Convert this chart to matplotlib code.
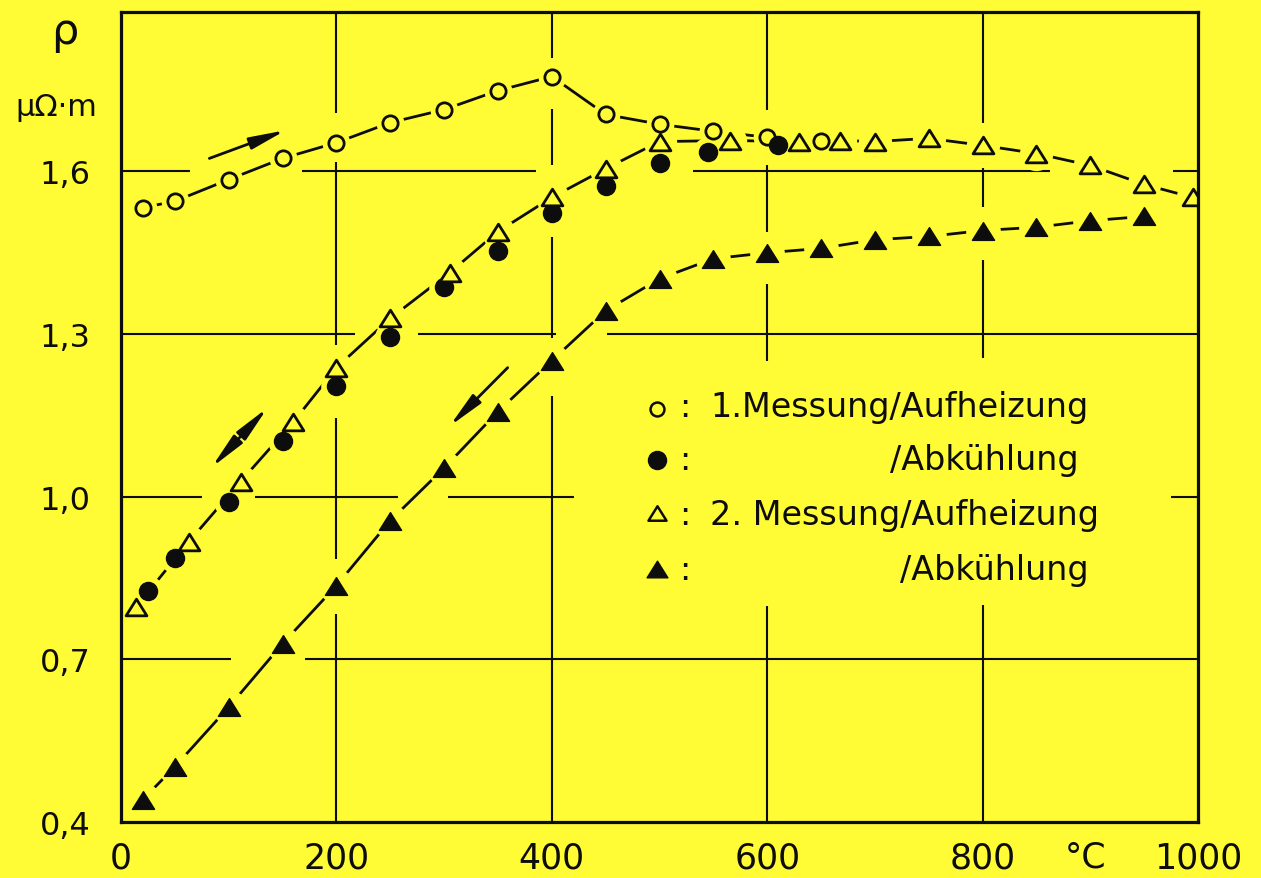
import matplotlib
matplotlib.use("Agg")
import matplotlib.pyplot as plt
from matplotlib.path import Path

# ---------------- data ----------------
# 1. Messung / Aufheizung (open circles)
t1_heat = [20, 50, 100, 150, 200, 250, 300, 350, 400, 450, 500, 550, 600, 650]
r1_heat = [1.533, 1.545, 1.585, 1.624, 1.653, 1.690, 1.714, 1.749, 1.775,
           1.705, 1.687, 1.674, 1.663, 1.656]
# 1. Messung / Abkühlung (filled circles)
t1_cool = [25, 50, 100, 150, 200, 250, 300, 350, 400, 450, 500, 545, 610]
r1_cool = [0.826, 0.887, 0.991, 1.103, 1.205, 1.295, 1.386, 1.454, 1.524,
           1.574, 1.615, 1.635, 1.648]
# 2. Messung / Aufheizung (open triangles)
t2_heat = [14, 63, 111, 160, 200, 250, 305, 350, 400, 450, 500, 565, 630,
           668, 700, 750, 800, 850, 900, 950, 995]
r2_heat = [0.797, 0.917, 1.028, 1.138, 1.238, 1.329, 1.413, 1.489, 1.552,
           1.605, 1.655, 1.657, 1.655, 1.657, 1.655, 1.661, 1.648, 1.633,
           1.611, 1.576, 1.552]
# 2. Messung / Abkühlung (filled triangles)
t2_cool = [20, 50, 100, 150, 200, 250, 300, 350, 400, 450, 500, 550, 600,
           650, 700, 750, 800, 850, 900, 950]
r2_cool = [0.441, 0.502, 0.612, 0.729, 0.836, 0.956, 1.053, 1.157, 1.251,
           1.343, 1.402, 1.439, 1.450, 1.458, 1.474, 1.480, 1.491, 1.497,
           1.509, 1.517]

x_ticks = [0, 200, 400, 600, 800, 1000]
x_ticklabels = ["0", "200", "400", "600", "800", "1000"]
y_ticks = [0.4, 0.7, 1.0, 1.3, 1.6]
y_ticklabels = ["0,4", "0,7", "1,0", "1,3", "1,6"]

legend_labels = ["1.Messung/Aufheizung", "/Abkühlung",
                 "2. Messung/Aufheizung", "/Abkühlung"]

# ---------------- style / layout ----------------
YELLOW = "#FFFC36"
INK = "#0d0d0d"
FONT = "DejaVu Sans"

# hand-drawn grid with gaps (segments in data units)
h_grid = {
    1.6: [(0, 64), (168, 385), (531, 863), (977, 1000)],
    1.3: [(0, 217), (276, 404), (451, 1000)],
    1.0: [(0, 75), (124, 257), (304, 421), (975, 1000)],
    0.7: [(0, 102), (171, 1000)],
}
v_grid = {
    200: [(0.4, 0.783), (0.886, 1.146), (1.280, 1.617), (1.708, 1.9)],
    400: [(0.4, 1.185), (1.293, 1.479), (1.611, 1.716), (1.81, 1.9)],
    600: [(0.4, 0.799), (1.251, 1.393), (1.489, 1.611), (1.713, 1.9)],
    800: [(0.4, 0.800), (1.255, 1.437), (1.535, 1.607), (1.690, 1.9)],
}

# flattened triangle markers
tri_up = Path([(0, 0.8), (-1, -0.8), (1, -0.8), (0, 0.8)],
              [Path.MOVETO, Path.LINETO, Path.LINETO, Path.CLOSEPOLY])

fig = plt.figure(figsize=(12.61, 8.79), dpi=100)
fig.patch.set_facecolor(YELLOW)
ax = fig.add_axes([0.096, 0.0637, 0.854, 0.9215])
ax.set_facecolor(YELLOW)
ax.set_xlim(0, 1000)
ax.set_ylim(0.4, 1.894)

for y, segs in h_grid.items():
    for a, b in segs:
        ax.plot([a, b], [y, y], color=INK, lw=1.5, zorder=1,
                solid_capstyle="butt")
for x, segs in v_grid.items():
    for a, b in segs:
        ax.plot([x, x], [a, b], color=INK, lw=1.5, zorder=1,
                solid_capstyle="butt")

# connecting lines
ax.plot(t1_heat, r1_heat, color=INK, lw=2.0, zorder=2)
ax.plot(t2_heat, r2_heat, color=INK, lw=2.0, zorder=2)
ax.plot(t2_cool, r2_cool, color=INK, lw=2.0, zorder=2)

# halos (break the lines around the symbols)
for xs, ys, ms in [(t1_heat, r1_heat, 20), (t1_cool, r1_cool, 22),
                   (t2_heat, r2_heat, 24), (t2_cool, r2_cool, 25)]:
    ax.plot(xs, ys, ls="none", marker="o", ms=ms, mfc=YELLOW, mec="none",
            zorder=3)

# symbols
ax.plot(t1_heat, r1_heat, ls="none", marker="o", ms=11, mfc=YELLOW,
        mec=INK, mew=2.0, zorder=4)
ax.plot(t1_cool, r1_cool, ls="none", marker="o", ms=13, mfc=INK,
        mec=INK, mew=1.0, zorder=4)
ax.plot(t2_heat, r2_heat, ls="none", marker=tri_up, ms=15, mfc=YELLOW,
        mec=INK, mew=2.0, zorder=4)
ax.plot(t2_cool, r2_cool, ls="none", marker=tri_up, ms=16, mfc=INK,
        mec=INK, mew=1.0, zorder=4)

# arrows
arrow_kw = dict(color=INK, lw=2.0, shrinkA=0, shrinkB=0)
ax.annotate("", xy=(153, 1.676), xytext=(82, 1.624),
            arrowprops=dict(arrowstyle="-|>,head_length=1.2,head_width=0.2",
                            mutation_scale=18, **arrow_kw), zorder=5)
ax.annotate("", xy=(136, 1.164), xytext=(84, 1.054),
            arrowprops=dict(arrowstyle="<|-|>,head_length=1.2,head_width=0.2",
                            mutation_scale=18, **arrow_kw), zorder=5)
ax.annotate("", xy=(305, 1.130), xytext=(359, 1.238),
            arrowprops=dict(arrowstyle="-|>,head_length=1.2,head_width=0.2",
                            mutation_scale=18, **arrow_kw), zorder=5)

# spines / ticks
for s in ax.spines.values():
    s.set_linewidth(2.3)
    s.set_color(INK)
    s.set_zorder(6)
ax.set_xticks(x_ticks)
ax.set_xticklabels(x_ticklabels, fontsize=25, family=FONT, color=INK)
ax.set_yticks(y_ticks)
ax.set_yticklabels(y_ticklabels, fontsize=23, family=FONT, color=INK)
ax.tick_params(axis="x", length=0, pad=13)
ax.tick_params(axis="y", length=0, pad=22)

# axis unit texts
ax.text(896, -0.042, "°C", transform=ax.get_xaxis_transform(), ha="center",
        va="center", fontsize=25, family=FONT, color=INK)
fig.text(65 / 1261, 1 - 32 / 879, "ρ", ha="center", va="center",
         fontsize=31, family=FONT, color=INK)
fig.text(56 / 1261, 1 - 108 / 879, "μΩ·m", ha="center", va="center",
         fontsize=22, family=FONT, color=INK)

# legend drawn as in the original (symbol : text)
leg_sym_x = 498
leg_colon_x = 523
leg_text_x = 547
leg_marker_y = [1.162, 1.068, 0.970, 0.867]
leg_base_y = [1.148, 1.052, 0.950, 0.849]
leg_styles = [
    dict(marker="o", ms=10, mfc=YELLOW, mec=INK, mew=1.8),
    dict(marker="o", ms=13, mfc=INK, mec=INK, mew=1.0),
    dict(marker=tri_up, ms=13, mfc=YELLOW, mec=INK, mew=1.8),
    dict(marker=tri_up, ms=15, mfc=INK, mec=INK, mew=1.0),
]
LEG_FS = 24
for i in range(4):
    ax.plot([leg_sym_x], [leg_marker_y[i]], ls="none", zorder=4,
            **leg_styles[i])
    ax.text(leg_colon_x, leg_base_y[i], ":", ha="center", va="baseline",
            fontsize=LEG_FS, family=FONT, color=INK)

t_row1 = ax.text(leg_text_x, leg_base_y[0], legend_labels[0], ha="left",
                 va="baseline", fontsize=LEG_FS, family=FONT, color=INK)
t_row3 = ax.text(leg_text_x, leg_base_y[2], legend_labels[2], ha="left",
                 va="baseline", fontsize=LEG_FS, family=FONT, color=INK)

# align the "/Abkühlung" rows under the slash of the rows above
fig.canvas.draw()
renderer = fig.canvas.get_renderer()
inv = ax.transData.inverted()
for prefix, row in [("1.Messung", 1), ("2. Messung", 3)]:
    tmp = ax.text(leg_text_x, leg_base_y[row], prefix, ha="left",
                  va="baseline", fontsize=LEG_FS, family=FONT)
    bb = tmp.get_window_extent(renderer)
    tmp.remove()
    x_slash = inv.transform((bb.x1, bb.y0))[0]
    ax.text(x_slash, leg_base_y[row], legend_labels[row], ha="left",
            va="baseline", fontsize=LEG_FS, family=FONT, color=INK)

fig.savefig("out.png", dpi=100, facecolor=YELLOW)
